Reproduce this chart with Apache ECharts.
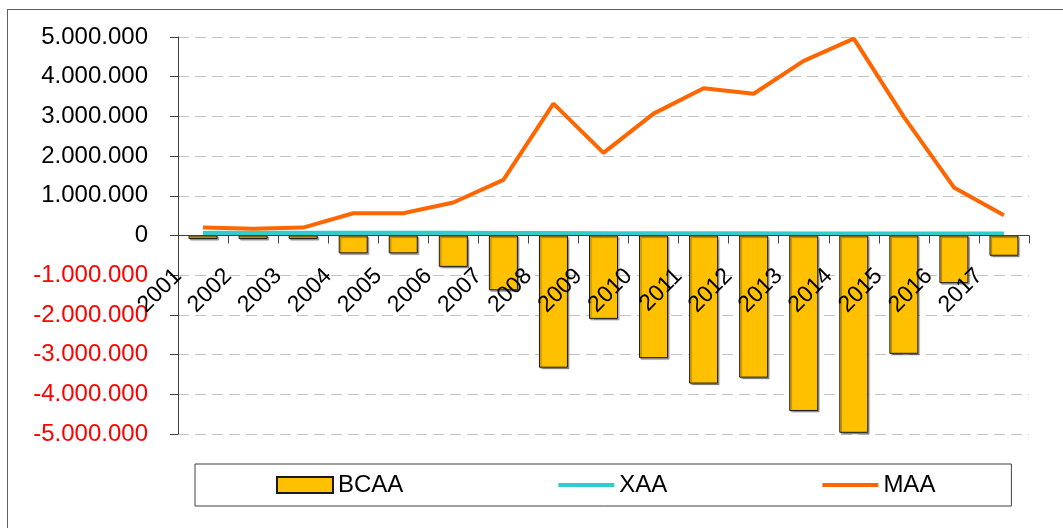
<!DOCTYPE html>
<html>
<head>
<meta charset="utf-8">
<script src="https://cdn.jsdelivr.net/npm/echarts@6/dist/echarts.min.js"></script>
<style>
html,body{margin:0;padding:0;background:#fff;overflow:hidden;width:1063px;height:528px}
#frame{position:absolute;left:7px;top:9px;width:1070px;height:540px;border:1.5px solid #606060;box-sizing:border-box}
#c{position:absolute;left:0;top:0;width:1063px;height:528px}
</style>
</head>
<body>
<div id="frame"></div>
<div id="c"></div>
<script>
const years = ['2001','2002','2003','2004','2005','2006','2007','2008','2009','2010','2011','2012','2013','2014','2015','2016','2017'];
const BCAA = [-90000,-90000,-90000,-450000,-450000,-790000,-1380000,-3330000,-2100000,-3090000,-3730000,-3580000,-4420000,-4970000,-2980000,-1200000,-510000];
const XAA  = [65000,65000,65000,60000,60000,60000,55000,55000,50000,50000,50000,50000,45000,45000,45000,45000,45000];
const MAA  = [200000,170000,200000,560000,560000,830000,1400000,3320000,2080000,3070000,3710000,3570000,4400000,4960000,2990000,1210000,510000];
const yMin = -5000000, yMax = 5000000, yStep = 1000000;

function fmt(n){
  const s = Math.abs(n).toString().replace(/\B(?=(\d{3})+(?!\d))/g,'.');
  return (n < 0 ? '-' : '') + s;
}
const pts = arr => arr.map((v,i)=>[i+0.5, v]);
const FONT = 'Liberation Sans, Arial, sans-serif';

const W = 1063, H = 528;
const gridTop = 37, gridBottom = 94;
const plotH = H - gridTop - gridBottom;
// lift the year axis from the bottom edge up to the zero line
const zeroOffset = -plotH * (0 - yMin) / (yMax - yMin);

const LINE_ICON = 'path://M0,0 L56,0 L56,4 L0,4 Z';

const chart = echarts.init(document.getElementById('c'), null, {renderer:'canvas'});
chart.setOption({
  animation:false,
  backgroundColor:'transparent',
  textStyle:{fontFamily:FONT},
  grid:{left:178, right:34, top:gridTop, bottom:gridBottom, containLabel:false},
  xAxis:{
    type:'value', min:0, max:years.length, interval:1,
    position:'bottom', offset:zeroOffset, z:10,
    axisLine:{onZero:false, lineStyle:{color:'#404040', width:1}},
    axisTick:{show:true, inside:false, length:8, lineStyle:{color:'#404040'}},
    splitLine:{show:false},
    axisLabel:{
      rotate:45, margin:37, fontSize:23, color:'#000', fontFamily:FONT,
      showMinLabel:true, showMaxLabel:true, hideOverlap:false,
      formatter:v => (v < years.length ? years[v] : '')
    }
  },
  yAxis:{
    type:'value', min:yMin, max:yMax, interval:yStep,
    axisLine:{show:true, lineStyle:{color:'#404040', width:1}},
    axisTick:{show:true, inside:false, length:8, lineStyle:{color:'#404040'}},
    splitLine:{show:true, lineStyle:{color:'#c4c4c4', width:1, type:[11,6]}},
    axisLabel:{
      margin:30, fontSize:24, fontFamily:FONT,
      color:v => (Number(v) < 0 ? '#ff0000' : '#000000'),
      formatter:v => fmt(v)
    }
  },
  legend:{
    left:195, top:464,
    padding:[9,76,9,81],
    borderColor:'#404040', borderWidth:1,
    itemGap:155, itemWidth:56, itemHeight:16,
    textStyle:{fontSize:24, color:'#000', fontFamily:FONT},
    data:[
      {name:'BCAA', icon:'rect'},
      {name:'XAA', icon:LINE_ICON},
      {name:'MAA', icon:LINE_ICON}
    ]
  },
  series:[
    {
      name:'BCAA', type:'bar', data:pts(BCAA), barWidth:29,
      itemStyle:{color:'#FFC000', borderColor:'#1a1a1a', borderWidth:1,
        shadowColor:'rgba(0,0,0,0.35)', shadowOffsetX:1.5, shadowOffsetY:1.5, shadowBlur:1},
      z:2
    },
    {
      name:'XAA', type:'line', data:pts(XAA), symbol:'none', showSymbol:false,
      lineStyle:{color:'#33CCCC', width:4.5}, itemStyle:{color:'#33CCCC'}, z:3
    },
    {
      name:'MAA', type:'line', data:pts(MAA), symbol:'none', showSymbol:false,
      lineStyle:{color:'#FF6600', width:4}, itemStyle:{color:'#FF6600'}, z:4
    }
  ]
});
</script>
</body>
</html>
